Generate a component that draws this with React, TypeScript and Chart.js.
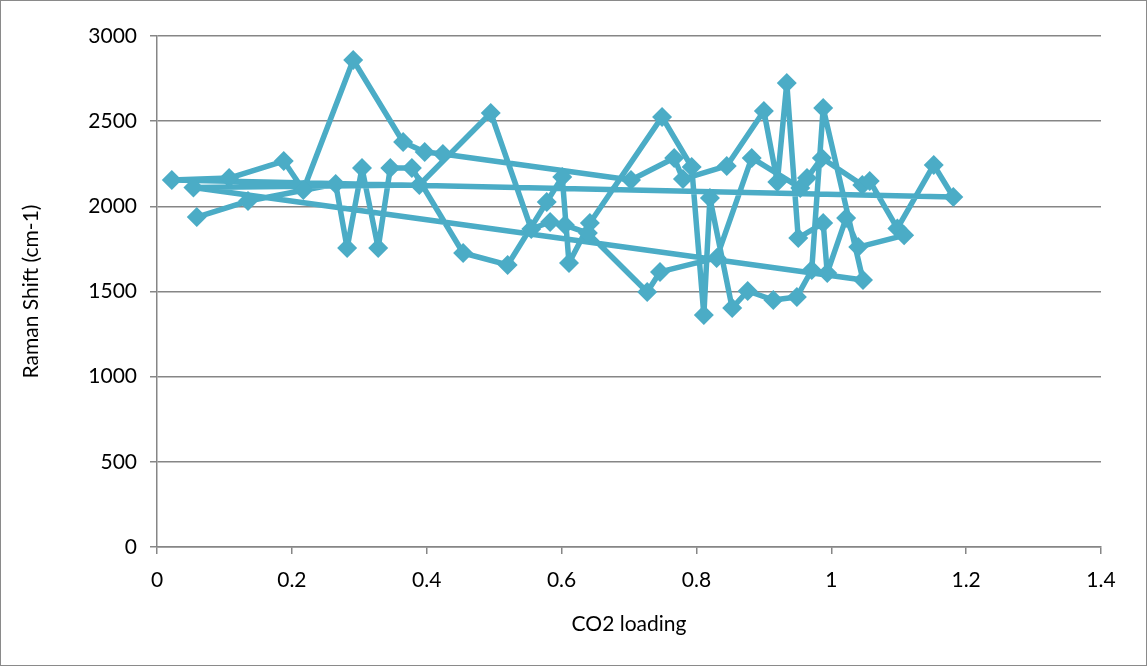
import React, { useEffect, useRef } from "react";
import { Chart, registerables } from "chart.js";

Chart.register(...registerables);

// CO2 loading (x) and Raman shift (y), in the order the line connects them
const loading: number[] = [
  0.059, 0.135, 0.265, 0.282, 0.304, 0.328, 0.346, 0.378, 0.454, 0.52, 0.578, 0.601, 0.611,
  0.642, 0.749, 0.793, 0.811, 0.82, 0.853, 0.876, 0.914, 0.949, 0.971, 0.988, 1.047,
  0.054, 0.389, 0.495, 0.555, 0.583, 0.605, 0.639, 0.727, 0.746, 0.83, 0.882, 0.954, 0.964,
  0.986, 1.046, 1.057, 1.098, 1.152, 1.181,
  0.022, 0.107, 0.188, 0.217, 0.291, 0.365, 0.397, 0.424, 0.703, 0.767, 0.78, 0.845, 0.9,
  0.92, 0.934, 0.951, 0.988, 0.994, 1.022, 1.04, 1.108,
];
const ramanShift: number[] = [
  1937, 2031, 2131, 1755, 2225, 1755, 2225, 2225, 1726, 1656, 2025, 2172, 1667,
  1902, 2525, 2231, 1362, 2049, 1403, 1503, 1450, 1468, 1626, 2577, 1567,
  2110, 2125, 2548, 1867, 1908, 1890, 1843, 1497, 1615, 1697, 2284, 2108, 2166,
  2284, 2125, 2149, 1870, 2243, 2055,
  2155, 2166, 2266, 2096, 2859, 2378, 2319, 2307, 2155, 2284, 2160, 2237, 2560,
  2143, 2724, 1814, 1902, 1609, 1931, 1761, 1830,
];

const xTicks: number[] = [0, 0.2, 0.4, 0.6, 0.8, 1, 1.2, 1.4];
const yTicks: number[] = [0, 500, 1000, 1500, 2000, 2500, 3000];

const xTitle = "CO2 loading";
const yTitle = "Raman Shift (cm-1)";

const FONT = "Lato, 'Liberation Sans', sans-serif";
const COLOR = "#4BACC6";

export default function App() {
  const ref = useRef<HTMLCanvasElement | null>(null);

  useEffect(() => {
    if (!ref.current) return;
    const points = loading.map((x, i) => ({ x, y: ramanShift[i] }));
    const chart = new Chart(ref.current, {
      type: "scatter",
      data: {
        datasets: [
          {
            data: points,
            showLine: true,
            borderColor: COLOR,
            backgroundColor: COLOR,
            borderWidth: 5.5,
            borderJoinStyle: "round",
            pointStyle: "rectRot",
            pointRadius: 10,
            pointHoverRadius: 10,
            pointBorderWidth: 0,
            tension: 0,
          },
        ],
      },
      options: {
        animation: false,
        responsive: false,
        maintainAspectRatio: false,
        layout: { padding: { left: 0, top: 35, right: 45, bottom: 0 } },
        plugins: { legend: { display: false }, tooltip: { enabled: false } },
        scales: {
          x: {
            type: "linear",
            min: 0,
            max: 1.4,
            afterBuildTicks: (s: any) => {
              s.ticks = xTicks.map((v) => ({ value: v }));
            },
            afterFit: (s: any) => {
              s.height = 118;
            },
            ticks: {
              color: "#000",
              font: { family: FONT, size: 21 },
              padding: 14,
              maxRotation: 0,
              callback: (v: any) => String(v),
            },
            grid: { drawOnChartArea: false, drawTicks: true, tickLength: 7, color: "#868686", lineWidth: 1.5 },
            border: { display: true, color: "#868686", width: 1.5 },
            title: {
              display: true,
              text: xTitle,
              color: "#000",
              font: { family: FONT, size: 21 },
              padding: { top: 0, bottom: 28 },
            },
          },
          y: {
            type: "linear",
            min: 0,
            max: 3000,
            afterBuildTicks: (s: any) => {
              s.ticks = yTicks.map((v) => ({ value: v }));
            },
            afterFit: (s: any) => {
              s.width = 156;
            },
            ticks: {
              color: "#000",
              font: { family: FONT, size: 21 },
              padding: 13,
              callback: (v: any) => String(v),
            },
            grid: { color: "#868686", lineWidth: 1.5, drawTicks: true, tickLength: 7 },
            border: { display: true, color: "#868686", width: 1.5 },
            title: {
              display: true,
              text: yTitle,
              color: "#000",
              font: { family: FONT, size: 21 },
              padding: { top: 18, bottom: 0 },
            },
          },
        },
      },
    });
    return () => chart.destroy();
  }, []);

  return (
    <div
      style={{
        position: "fixed",
        left: 0,
        top: 0,
        width: 1147,
        height: 666,
        boxSizing: "border-box",
        border: "1px solid #8a8a8a",
        background: "#fff",
      }}
    >
      <canvas ref={ref} width={1145} height={664} style={{ display: "block" }} />
    </div>
  );
}
